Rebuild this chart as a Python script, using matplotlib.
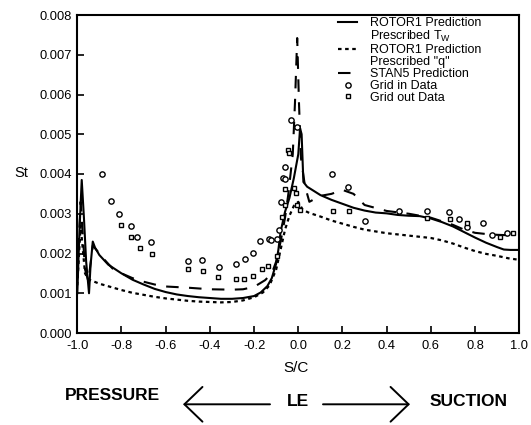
import matplotlib
matplotlib.use("Agg")
import matplotlib.pyplot as plt
from matplotlib.lines import Line2D

plt.rcParams['font.family'] = ['Liberation Sans', 'DejaVu Sans']
plt.rcParams['axes.unicode_minus'] = False
plt.rcParams['mathtext.fontset'] = 'custom'
plt.rcParams['mathtext.rm'] = 'Liberation Sans'

# Stanton number distributions (values in units of 1e-3), S/C < 0 pressure side, > 0 suction side
rotor_tw_x = [-1.0, -0.99, -0.98, -0.97, -0.96, -0.947, -0.94, -0.93, -0.92, -0.9,
              -0.86, -0.8, -0.75, -0.7, -0.65, -0.6, -0.55, -0.5, -0.45, -0.4,
              -0.35, -0.3, -0.25, -0.2, -0.17, -0.14, -0.12, -0.1, -0.09, -0.08,
              -0.06, -0.04, -0.02, 0.0, 0.008, 0.015, 0.023, 0.04, 0.1, 0.15,
              0.2, 0.25, 0.3, 0.35, 0.4, 0.45, 0.5, 0.55, 0.6, 0.65,
              0.7, 0.75, 0.8, 0.85, 0.9, 0.93, 0.96, 1.0]
rotor_tw_st = [1.0, 2.6, 3.85, 2.9, 1.8, 1.0, 1.7, 2.3, 2.15, 1.96,
               1.72, 1.50, 1.34, 1.22, 1.11, 1.03, 0.97, 0.93, 0.90, 0.88,
               0.86, 0.86, 0.88, 0.93, 1.02, 1.18, 1.38, 1.75, 2.1, 2.55,
               3.05, 3.4, 3.9, 4.5, 5.15, 5.0, 3.8, 3.68, 3.47, 3.35,
               3.25, 3.15, 3.08, 3.03, 3.01, 2.97, 2.95, 2.94, 2.88, 2.79,
               2.68, 2.54, 2.40, 2.27, 2.16, 2.10, 2.09, 2.09]

rotor_q_x = [-1.0, -0.985, -0.965, -0.95, -0.9, -0.85, -0.8, -0.75, -0.7, -0.65,
             -0.6, -0.55, -0.5, -0.45, -0.4, -0.35, -0.3, -0.25, -0.2, -0.16,
             -0.13, -0.1, -0.08, -0.06, -0.04, -0.02, 0.0, 0.02, 0.05, 0.1,
             0.15, 0.2, 0.25, 0.3, 0.4, 0.5, 0.55, 0.6, 0.65, 0.7,
             0.75, 0.8, 0.85, 0.9, 0.95, 1.0]
rotor_q_st = [1.2, 2.7, 1.5, 1.35, 1.24, 1.16, 1.08, 1.01, 0.96, 0.91,
              0.87, 0.84, 0.81, 0.79, 0.78, 0.77, 0.78, 0.82, 0.90, 1.02,
              1.2, 1.6, 2.1, 2.6, 2.95, 3.2, 3.3, 3.1, 3.02, 2.93,
              2.83, 2.75, 2.67, 2.6, 2.51, 2.45, 2.42, 2.39, 2.33, 2.25,
              2.15, 2.06, 1.99, 1.94, 1.88, 1.84]

stan5_x = [-1.0, -0.985, -0.965, -0.95, -0.93, -0.9, -0.87, -0.84, -0.8, -0.75,
           -0.7, -0.65, -0.6, -0.5, -0.4, -0.3, -0.25, -0.2, -0.15, -0.12,
           -0.1, -0.08, -0.06, -0.045, -0.025, -0.015, -0.005, 0.003, 0.012, 0.03,
           0.05, 0.1, 0.15, 0.2, 0.25, 0.3, 0.4, 0.5, 0.6, 0.7,
           0.75, 0.8, 0.85, 0.9, 0.95, 1.0]
stan5_st = [1.5, 3.3, 1.6, 1.3, 2.2, 2.0, 1.8, 1.62, 1.5, 1.38,
            1.29, 1.22, 1.17, 1.14, 1.10, 1.09, 1.10, 1.16, 1.33, 1.5,
            1.8, 2.3, 2.9, 3.5, 4.5, 5.8, 7.42, 5.8, 4.4, 3.7,
            3.3, 3.45, 3.5, 3.6, 3.5, 3.22, 3.07, 3.0, 2.9, 2.72,
            2.6, 2.52, 2.49, 2.47, 2.46, 2.47]

grid_in_x = [-0.887, -0.848, -0.810, -0.757, -0.729, -0.668, -0.501, -0.437, -0.357, -0.283,
             -0.241, -0.206, -0.172, -0.133, -0.098, -0.125, -0.089, -0.077, -0.071, -0.060,
             -0.062, -0.034, -0.007, 0.151, 0.226, 0.302, 0.454, 0.584, 0.683, 0.729,
             0.762, 0.837, 0.875, 0.943]
grid_in_st = [3.99, 3.32, 2.99, 2.69, 2.41, 2.30, 1.82, 1.84, 1.67, 1.74,
              1.87, 2.01, 2.32, 2.36, 2.36, 2.34, 2.59, 3.30, 3.89, 3.87,
              4.17, 5.36, 5.17, 4.0, 3.67, 2.82, 3.07, 3.07, 3.04, 2.86,
              2.67, 2.77, 2.47, 2.52]

grid_out_x = [-0.804, -0.757, -0.718, -0.663, -0.498, -0.433, -0.362, -0.283, -0.244, -0.205,
              -0.166, -0.136, -0.095, -0.072, -0.059, -0.059, -0.045, -0.041, -0.020, -0.012,
              -0.005, 0.008, 0.156, 0.228, 0.581, 0.686, 0.765, 0.913, 0.970]
grid_out_st = [2.71, 2.42, 2.15, 1.98, 1.60, 1.57, 1.40, 1.36, 1.36, 1.44,
               1.62, 1.69, 1.94, 2.93, 3.22, 3.62, 4.60, 4.52, 3.64, 3.51,
               3.22, 3.09, 3.07, 3.07, 2.89, 2.87, 2.76, 2.41, 2.52]

x_ticks = [-1.0, -0.8, -0.6, -0.4, -0.2, 0.0, 0.2, 0.4, 0.6, 0.8, 1.0]
y_ticks = [0.000, 0.001, 0.002, 0.003, 0.004, 0.005, 0.006, 0.007, 0.008]


def scaled(vals):
    return [v * 1e-3 for v in vals]


W, H = 531, 425
fig = plt.figure(figsize=(W / 100, H / 100), dpi=100)
ax = fig.add_axes([77.3 / W, 1 - 333 / H, 442 / W, 318 / H])

k = 'black'
l_tw, = ax.plot(rotor_tw_x, scaled(rotor_tw_st), color=k, lw=1.5)
l_q, = ax.plot(rotor_q_x, scaled(rotor_q_st), color=k, lw=1.6, linestyle=(0, (1.6, 1.6)))
l_s, = ax.plot(stan5_x, scaled(stan5_st), color=k, lw=1.5, linestyle=(0, (6, 5)))
p_in, = ax.plot(grid_in_x, scaled(grid_in_st), linestyle='none', marker='o', ms=3.8,
                mfc='white', mec=k, mew=1.0)
p_out, = ax.plot(grid_out_x, scaled(grid_out_st), linestyle='none', marker='s', ms=3.4,
                 mfc='white', mec=k, mew=1.0)

ax.set_xlim(-1.0, 1.0)
ax.set_ylim(0.0, 0.008)
ax.set_xticks(x_ticks)
ax.set_xticklabels([f"{t:.1f}" for t in x_ticks])
ax.set_yticks(y_ticks)
ax.set_yticklabels([f"{t:.3f}" for t in y_ticks])
ax.tick_params(direction='in', length=5, width=1.2, labelsize=9.3, pad=4)
ax.tick_params(axis='x', pad=5)
for s in ax.spines.values():
    s.set_linewidth(1.5)

ax.set_xlabel('S/C', fontsize=11)
ax.xaxis.set_label_coords((296 - 77.3) / 442, (333 - 361) / 318)
ax.set_ylabel('St', fontsize=10.5, rotation=0, ha='center', va='center')
ax.yaxis.set_label_coords((21 - 77.3) / 442, (333 - 173) / 318)

blank = Line2D([], [], linestyle='none')
handles = [l_tw, blank, l_q, blank, l_s, p_in, p_out]
labels = ['ROTOR1 Prediction', r'Prescribed T$_\mathregular{W}$', 'ROTOR1 Prediction',
          'Prescribed "q"', 'STAN5 Prediction', 'Grid in Data', 'Grid out Data']
ax.legend(handles, labels, loc='upper left', bbox_to_anchor=(338 / W, 1 - 17.5 / H),
          bbox_transform=fig.transFigure, frameon=False, fontsize=9.0,
          handlelength=1.55, handletextpad=1.05, labelspacing=-0.01,
          borderpad=0, borderaxespad=0)

# blade-surface direction key under the axis
fig.text(112 / W, 29.5 / H, 'PRESSURE', fontsize=12.5, fontweight='bold', ha='center', va='center')
fig.text(298 / W, 24 / H, 'LE', fontsize=12.5, fontweight='bold', ha='center', va='center')
fig.text(469 / W, 23 / H, 'SUCTION', fontsize=12.5, fontweight='bold', ha='center', va='center')
arrow_kw = dict(arrowstyle='->,head_length=1.3,head_width=1.25', lw=1.4, color=k,
                mutation_scale=10, shrinkA=0, shrinkB=0)
ax.annotate('', xy=(183, 20.7), xytext=(270, 20.7), xycoords='figure pixels',
            textcoords='figure pixels', arrowprops=arrow_kw, annotation_clip=False)
ax.annotate('', xy=(410, 20.7), xytext=(323, 20.7), xycoords='figure pixels',
            textcoords='figure pixels', arrowprops=arrow_kw, annotation_clip=False)

fig.savefig('out.png', dpi=100)
